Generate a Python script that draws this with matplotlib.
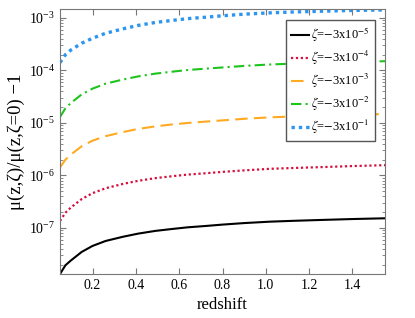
import numpy as np
import matplotlib
matplotlib.use("Agg")
import matplotlib.pyplot as plt
from matplotlib.ticker import LogLocator, NullFormatter

plt.rcParams['font.family'] = ['Liberation Serif', 'DejaVu Serif']
plt.rcParams['mathtext.fontset'] = 'stix'

z = [0.05, 0.075, 0.1, 0.15, 0.2, 0.26, 0.34, 0.41, 0.49, 0.57,
     0.64, 0.72, 0.8, 0.9, 1.02, 1.13, 1.25, 1.4, 1.55]
zeta_5 = np.array([1.33, 1.95, 2.4, 3.5, 4.55, 5.65, 6.8, 7.8, 8.8, 9.6,
                   10.3, 10.9, 11.6, 12.4, 13.2, 13.7, 14.2, 14.8, 15.3]) * 1e-8
zeta_4 = np.array([1.36, 1.95, 2.45, 3.55, 4.6, 5.7, 6.9, 7.9, 8.9, 9.7,
                   10.4, 11.0, 11.7, 12.5, 13.4, 13.9, 14.4, 15.1, 15.7]) * 1e-7
zeta_3 = np.array([1.42, 2.0, 2.5, 3.6, 4.6, 5.6, 6.7, 7.7, 8.6, 9.4,
                   10.0, 10.6, 11.2, 12.0, 12.8, 13.3, 13.8, 14.3, 14.8]) * 1e-6
zeta_2 = np.array([1.3, 1.9, 2.4, 3.5, 4.5, 5.6, 6.7, 7.7, 8.7, 9.5,
                   10.2, 10.8, 11.4, 12.2, 13.0, 13.5, 14.0, 14.6, 15.0]) * 1e-5
zeta_1 = np.array([1.41, 2.0, 2.45, 3.3, 4.1, 5.1, 6.2, 7.2, 8.2, 9.0,
                   9.7, 10.3, 11.0, 11.8, 12.5, 13.0, 13.4, 13.9, 14.2]) * 1e-4

labels = [r'$\zeta$=$-$3x10$^{-5}$', r'$\zeta$=$-$3x10$^{-4}$', r'$\zeta$=$-$3x10$^{-3}$',
          r'$\zeta$=$-$3x10$^{-2}$', r'$\zeta$=$-$3x10$^{-1}$']

fig = plt.figure(figsize=(4.15, 3.18), dpi=100)
ax = fig.add_axes([0.1446, 0.1384, 0.7831, 0.8333])

ax.plot(z, zeta_5, color='black', lw=1.5, ls='-', label=labels[0])
ax.plot(z, zeta_4, color='#d4103f', lw=1.6, ls=(0, (1, 1.2)), label=labels[1])
ax.plot(z, zeta_3, color='#ffaa22', lw=1.5, ls=(0, (6, 3)), label=labels[2])
ax.plot(z, zeta_2, color='#1ec41e', lw=1.5, ls=(0, (5, 2, 1, 2)), label=labels[3])
ax.plot(z, zeta_1, color='#2b95f0', lw=2.4, ls=(0, (1, 1.2)), label=labels[4])

ax.set_yscale('log')
ax.set_xlim(0.05, 1.55)
ax.set_ylim(1.33e-8, 1.48e-3)
ax.set_xticks([0.2, 0.4, 0.6, 0.8, 1.0, 1.2, 1.4])
ax.yaxis.set_major_locator(LogLocator(base=10, numticks=12))
ax.yaxis.set_minor_locator(LogLocator(base=10, subs=np.arange(2, 10), numticks=12))
ax.yaxis.set_minor_formatter(NullFormatter())

ax.tick_params(which='both', direction='in', top=True, right=True, labelsize=10, color='#777777')
ax.tick_params(which='major', length=4)
ax.tick_params(which='minor', length=2)
for s in ax.spines.values():
    s.set_color('#777777')

ax.set_xlabel('redshift', fontsize=12)
ax.set_ylabel('μ(z,ζ)/μ(z,ζ=0) −1', fontsize=13.5, labelpad=3)

leg = ax.legend(loc='upper right', bbox_to_anchor=(0.969, 0.958), fontsize=9, handlelength=1.5,
                fancybox=False, framealpha=1, edgecolor='#555555',
                borderpad=0.4, labelspacing=0.4, handletextpad=0.15, borderaxespad=0)
leg.get_frame().set_linewidth(1.0)

fig.savefig('out.png', dpi=100)
